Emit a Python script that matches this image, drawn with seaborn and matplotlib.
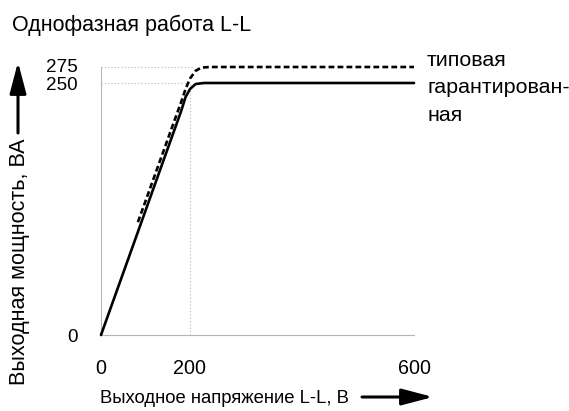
import numpy as np
import pandas as pd
import matplotlib
matplotlib.use("Agg")
import matplotlib.pyplot as plt
import matplotlib.transforms as mtransforms
import seaborn as sns

# Output voltage (V) and output power (VA) for both curves
guaranteed_v = [0, 180, 190, 200, 210, 225, 600]
guaranteed_va = [0, 222, 236, 244, 249, 250, 250]
typical_v = [83, 180, 190, 200, 210, 220, 235, 600]
typical_va = [112, 231, 244, 257, 269, 274, 275, 275]

series_names = ["гарантированная", "типовая"]
x_ticks = [0, 200, 600]
y_ticks = [0, 250, 275]
ref_levels = [250, 275]
ref_ends = [200, 205]
ref_voltage = 200

title = "Однофазная работа L-L"
x_label = "Выходное напряжение L-L, В"
y_label = "Выходная мощность, ВА"

sns.set_theme(style="white")
plt.rcParams["font.family"] = ["Liberation Sans", "DejaVu Sans"]
plt.rcParams["text.color"] = "black"

W, H = 569, 411
fig = plt.figure(figsize=(W / 100, H / 100), dpi=100)
ax = fig.add_axes([101 / W, (H - 335) / H, (414 - 101) / W, (335 - 67) / H])


def piecewise(src, dst):
    src = np.asarray(src, float)
    dst = np.asarray(dst, float)

    def f(v):
        v = np.asarray(v, float)
        out = np.interp(v, src, dst)
        lo = v < src[0]
        hi = v > src[-1]
        s0 = (dst[1] - dst[0]) / (src[1] - src[0])
        s1 = (dst[-1] - dst[-2]) / (src[-1] - src[-2])
        out = np.where(lo, dst[0] + (v - src[0]) * s0, out)
        out = np.where(hi, dst[-1] + (v - src[-1]) * s1, out)
        return out
    return f


# Schematic (non-uniform) axis scales
x_fwd = piecewise([0, 200, 600], [0, 89, 313])
x_inv = piecewise([0, 89, 313], [0, 200, 600])
y_fwd = piecewise([0, 250, 275], [0, 252, 268])
y_inv = piecewise([0, 252, 268], [0, 250, 275])
ax.set_xscale("function", functions=(x_fwd, x_inv))
ax.set_yscale("function", functions=(y_fwd, y_inv))

df = pd.concat([
    pd.DataFrame({"U": guaranteed_v, "P": guaranteed_va, "curve": series_names[0]}),
    pd.DataFrame({"U": typical_v, "P": typical_va, "curve": series_names[1]}),
])

# Dotted reference lines
gray = "#b5b5b5"
for lvl, end in zip(ref_levels, ref_ends):
    ax.plot([0, end], [lvl, lvl], ls=(0, (1, 2)), color=gray, lw=0.8, zorder=1)
ax.plot([ref_voltage, ref_voltage], [0, ref_levels[0]], ls=(0, (1, 2)),
        color=gray, lw=0.8, zorder=1)

sns.lineplot(data=df, x="U", y="P", hue="curve", style="curve",
             palette={series_names[0]: "black", series_names[1]: "black"},
             dashes={series_names[0]: "", series_names[1]: (2.2, 1.2)},
             linewidth=1.9, legend=False, ax=ax, sort=False, estimator=None,
             zorder=3)
for ln in ax.lines:
    ln.set_clip_on(False)

ax.set_xlim(0, 600)
ax.set_ylim(0, 275)
ax.set_xticks(x_ticks)
ax.set_yticks(y_ticks)
ax.set_xticklabels([str(t) for t in x_ticks])
ax.set_yticklabels([str(t) for t in y_ticks])
ax.tick_params(axis="both", direction="out", length=10.8, width=0.8,
               color=gray, labelcolor="black")
ax.tick_params(axis="x", pad=6.5, labelsize=14.2)
ax.tick_params(axis="y", pad=6, labelsize=13.6)
# nudge the two close y labels apart slightly
ylabels = ax.get_yticklabels()
ylabels[2].set_transform(ylabels[2].get_transform()
                         + mtransforms.ScaledTranslation(0, 1.5 / 100, fig.dpi_scale_trans))
ylabels[1].set_transform(ylabels[1].get_transform()
                         + mtransforms.ScaledTranslation(0, -1 / 100, fig.dpi_scale_trans))
ax.set_xlabel("")
ax.set_ylabel("")
for side in ["top", "right"]:
    ax.spines[side].set_visible(False)
for side in ["left", "bottom"]:
    ax.spines[side].set_color(gray)
    ax.spines[side].set_linewidth(0.8)
ax.grid(False)

# Curve labels at the right end
lab_fs = 15.4
ax.annotate("типовая", xy=(600, 275), xytext=(9.4, 5), textcoords="offset points",
            ha="left", va="center", fontsize=lab_fs, annotation_clip=False)
ax.annotate("гарантирован-", xy=(600, 250), xytext=(9.4, -3.5),
            textcoords="offset points", ha="left", va="center", fontsize=lab_fs,
            annotation_clip=False)
ax.annotate("ная", xy=(600, 250), xytext=(9.4, -23.5),
            textcoords="offset points", ha="left", va="center", fontsize=lab_fs,
            annotation_clip=False)


def fx(px):
    return px / W


def fy(py):
    return 1 - py / H


fig.text(fx(12), fy(25), title, ha="left", va="center", fontsize=15.5)
fig.text(fx(100), fy(398), x_label, ha="left", va="center", fontsize=13.3)
fig.text(fx(20), fy(262), y_label, ha="center", va="center", fontsize=15.6,
         rotation=90)

# Direction arrows beside the axis titles
arrow = dict(arrowstyle="-|>,head_length=1.9,head_width=0.5", color="black",
             lw=2.2, shrinkA=0, shrinkB=0)
fig.add_artist(matplotlib.patches.FancyArrowPatch(
    (fx(362), fy(397)), (fx(433), fy(397)), transform=fig.transFigure,
    mutation_scale=10, **arrow))
fig.add_artist(matplotlib.patches.FancyArrowPatch(
    (fx(18), fy(133)), (fx(18), fy(62)), transform=fig.transFigure,
    mutation_scale=10, **arrow))

fig.savefig("out.png", dpi=100, facecolor="white")
